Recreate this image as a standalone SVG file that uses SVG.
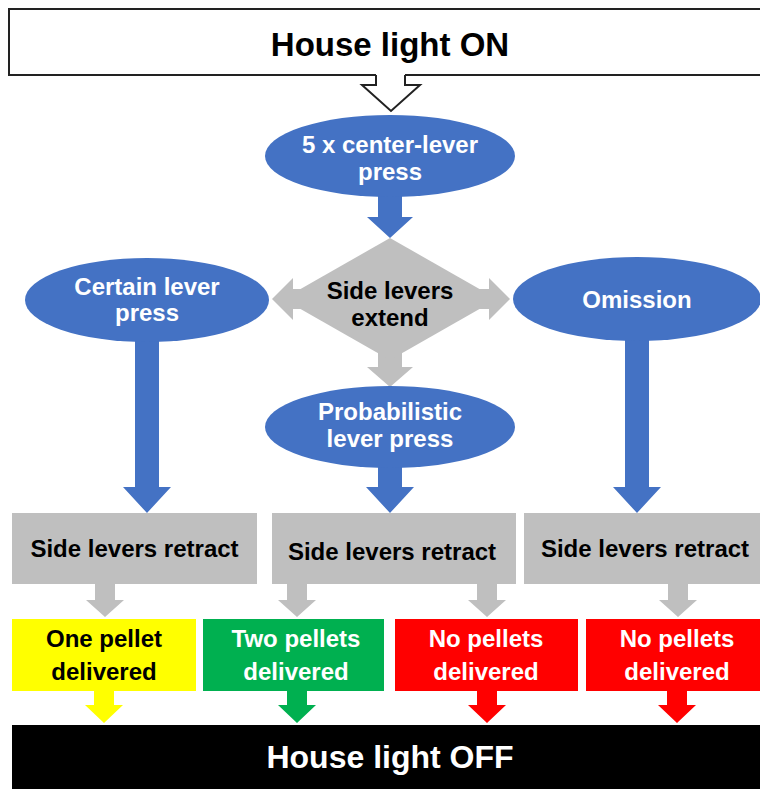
<svg xmlns="http://www.w3.org/2000/svg" width="760" height="789" viewBox="0 0 760 789">
<style>
text{font-family:"Liberation Sans",Arial,sans-serif;font-weight:bold;text-anchor:middle}
.t24{font-size:24px}
.w{fill:#ffffff}
.k{fill:#000000}
.blue{fill:#4472C4}
.gray{fill:#BFBFBF}
</style>
<rect width="760" height="789" fill="#ffffff"/>
<g id="house-on">
<rect x="9" y="9" width="760" height="66" fill="#ffffff" stroke="#222222" stroke-width="2"/>
<text x="390" y="56" font-size="33" class="k">House light ON</text>
</g>
<g id="connectors">
<polygon points="376,74 405,74 405,85 420,85 391,111 362,85 376,85" fill="#ffffff"/>
<polyline points="376,75 376,85 362,85 391,111 420,85 405,85 405,75" fill="none" stroke="#222222" stroke-width="2" stroke-linejoin="miter"/>
<polygon class="blue" points="378,195 402,195 402,217 413,217 390,238 367,217 378,217"/>
<polygon class="blue" points="135,338 159,338 159,487 171,487 147,513 123,487 135,487"/>
<polygon class="blue" points="378,465 402,465 402,487 414,487 390,513 366,487 378,487"/>
<polygon class="blue" points="625,338 649,338 649,487 661,487 637,513 613,487 625,487"/>
<polygon class="gray" points="378,350 402,350 402,367 413,367 390,387 367,367 378,367"/>
<polygon class="gray" points="95,584 115,584 115,600 124,600 105,617 86,600 95,600"/>
<polygon class="gray" points="287,584 307,584 307,600 316,600 297,617 278,600 287,600"/>
<polygon class="gray" points="477,584 497,584 497,600 506,600 487,617 468,600 477,600"/>
<polygon class="gray" points="668,584 688,584 688,600 697,600 678,617 659,600 668,600"/>
<polygon fill="#FFFF00" points="94,690 114,690 114,705 123,705 104,723 85,705 94,705"/>
<polygon fill="#00B050" points="287,690 307,690 307,705 316,705 297,723 278,705 287,705"/>
<polygon fill="#FF0000" points="477,690 497,690 497,705 506,705 487,723 468,705 477,705"/>
<polygon fill="#FF0000" points="667,690 687,690 687,705 696,705 677,723 658,705 667,705"/>
</g>
<g id="center-press">
<ellipse cx="390" cy="156" rx="125" ry="41" class="blue"/>
<text x="390" y="153" class="t24 w">5 x center-lever</text>
<text x="390" y="180" class="t24 w">press</text>
</g>
<g id="side-extend">
<polygon class="gray" points="390,238 497,299 390,360 283,299"/>
<polygon class="gray" points="272,299 293,278 293,289 489,289 489,278 510,299 489,320 489,309 293,309 293,320"/>
<text x="390" y="299" class="t24 k">Side levers</text>
<text x="390" y="326" class="t24 k">extend</text>
</g>
<g id="certain">
<ellipse cx="147" cy="300" rx="122" ry="42" class="blue"/>
<text x="147" y="295" class="t24 w">Certain lever</text>
<text x="147" y="321" class="t24 w">press</text>
</g>
<g id="omission">
<ellipse cx="637" cy="299" rx="124" ry="42" class="blue"/>
<text x="637" y="308" class="t24 w">Omission</text>
</g>
<g id="probabilistic">
<ellipse cx="390" cy="427" rx="125" ry="41" class="blue"/>
<text x="390" y="420" class="t24 w">Probabilistic</text>
<text x="390" y="447" class="t24 w">lever press</text>
</g>
<g id="retract-1">
<rect x="12" y="513" width="245" height="71" class="gray"/>
<text x="134.5" y="557" class="t24 k">Side levers retract</text>
</g>
<g id="retract-2">
<rect x="272" y="513" width="244" height="71" class="gray"/>
<text x="392" y="560" class="t24 k">Side levers retract</text>
</g>
<g id="retract-3">
<rect x="524" y="513" width="244" height="71" class="gray"/>
<text x="645" y="557" class="t24 k">Side levers retract</text>
</g>
<g id="one-pellet">
<rect x="12" y="619" width="184" height="72" fill="#FFFF00"/>
<text x="104" y="647" class="t24 k">One pellet</text>
<text x="104" y="680" class="t24 k">delivered</text>
</g>
<g id="two-pellets">
<rect x="203" y="619" width="181" height="72" fill="#00B050"/>
<text x="296" y="647" class="t24 w">Two pellets</text>
<text x="296" y="680" class="t24 w">delivered</text>
</g>
<g id="no-pellets-1">
<rect x="395" y="619" width="183" height="72" fill="#FF0000"/>
<text x="486" y="647" class="t24 w">No pellets</text>
<text x="486" y="680" class="t24 w">delivered</text>
</g>
<g id="no-pellets-2">
<rect x="586" y="619" width="184" height="72" fill="#FF0000"/>
<text x="677" y="647" class="t24 w">No pellets</text>
<text x="677" y="680" class="t24 w">delivered</text>
</g>
<g id="house-off">
<rect x="12" y="725" width="758" height="70" fill="#000000"/>
<text x="390" y="768" font-size="32" class="w">House light OFF</text>
</g>
</svg>
